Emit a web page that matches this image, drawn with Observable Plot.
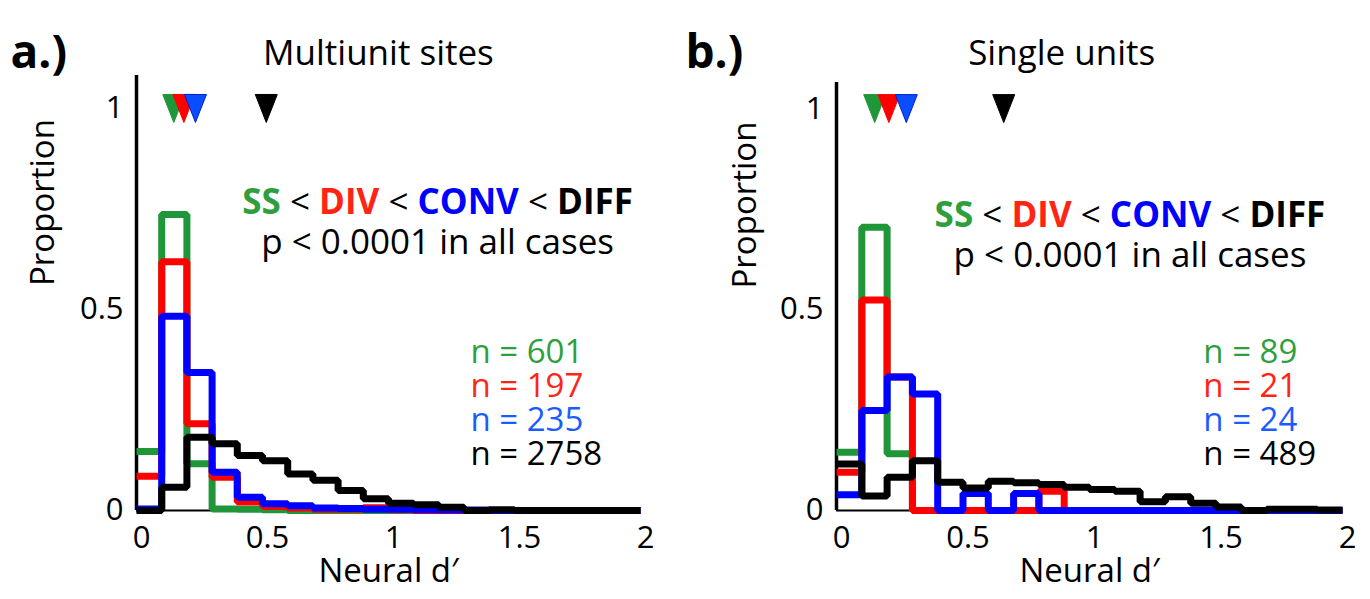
<!DOCTYPE html>
<html><head><meta charset="utf-8">
<script src="https://cdn.jsdelivr.net/npm/d3@7"></script>
<script src="https://cdn.jsdelivr.net/npm/@observablehq/plot@0.6"></script>
<style>
body{margin:0;background:#fff;}
#wrap{position:relative;width:1370px;height:599px;overflow:hidden;background:#fff;}
#wrap svg{position:absolute;top:0;}
</style></head><body><div id="wrap"></div>
<script>
// ---------- data ----------
const binEdges = [0,0.1,0.2,0.3,0.4,0.5,0.6,0.7,0.8,0.9,1.0,1.1,1.2,1.3,1.4,1.5,1.6,1.7,1.8,1.9,2.0];
const xTicks = [0,0.5,1,1.5,2];
const yTicks = [0,0.5,1];
const seriesNames = ["SS","DIV","CONV","DIFF"];
const lineColors = ["#1f9638","#ff0000","#0000ff","#000000"];
const textColors = ["#2e9f3c","#ff2414","#1b5cff","#000000"];
const markerColors = ["#1f9638","#ff0000","#0a4cff","#000000"];

// Panel a: Multiunit sites
const ssA   = [0.147,0.736,0.116,0.004,0.003,0.002,0,0,0,0,0,0,0,0,0,0,0,0,0,0];
const divA  = [0.085,0.619,0.216,0.083,0.021,0.010,0.006,0.003,0.003,0.007,0.002,0,0,0,0,0,0,0,0,0];
const convA = [0.004,0.483,0.343,0.095,0.033,0.017,0.012,0.006,0.005,0.003,0.003,0.002,0.001,0.001,0,0,0,0,0,0];
const diffA = [0,0.058,0.182,0.166,0.137,0.124,0.091,0.075,0.050,0.029,0.018,0.014,0.008,0,0.002,0,0,0,0,0];
const mediansA = [0.148,0.188,0.234,0.515];
const nA = ["601","197","235","2758"];

// Panel b: Single units
const ssB   = [0.145,0.705,0.141,0,0,0,0,0,0,0,0,0,0,0,0,0,0,0,0,0];
const divB  = [0.095,0.524,0.332,0,0,0,0,0,0.048,0,0,0,0,0,0,0,0,0,0,0];
const convB = [0.039,0.249,0.332,0.290,0,0.042,0,0.042,0,0,0,0,0,0,0,0,0,0,0,0];
const diffB = [0.116,0.036,0.083,0.124,0.070,0.056,0.073,0.069,0.065,0.058,0.052,0.048,0.022,0.034,0.018,0.009,0,0.003,0.003,0.001];
const mediansB = [0.151,0.207,0.276,0.661];
const nB = ["89","21","24","489"];

const statText = "SS < DIV < CONV < DIFF";
const pText = "p < 0.0001 in all cases";

// ---------- drawing ----------
const SVGNS = "http://www.w3.org/2000/svg";
const downTri = {draw(ctx){ ctx.moveTo(-11,-14); ctx.lineTo(11,-14); ctx.lineTo(0,14); ctx.closePath(); }};
const steps = vals => binEdges.map((x,i) => ({x, y: vals[Math.min(i, vals.length-1)]}));

function panel(cfg){
  const series = cfg.series;
  const nBlock = cfg.n.map(n => "n = " + n).join("\n");
  const statBlock = statText + "\n" + pText;
  const marks = [
    Plot.ruleY([0], {stroke:"black", strokeWidth:2}),
    Plot.ruleX([0], {stroke:"black", strokeWidth:3.5}),
    ...series.map((v,i) => Plot.line(steps(v), {x:"x", y:"y", curve:"step-after", stroke:lineColors[i], strokeWidth:7, strokeLinejoin:"miter", strokeLinecap:"butt"})),
    Plot.dot(cfg.medians.map((m,i)=>({x:m, y:1, i})), {x:"x", y:"y", symbol: downTri, fill: d=>markerColors[d.i], stroke: d=> d.i===2 ? "#0022cc" : markerColors[d.i], strokeWidth:1}),
    Plot.axisY({ticks:yTicks, tickSize:0, tickPadding:13, tickFormat:d=>String(d), label:null, fontSize:31}),
    Plot.axisX({ticks:xTicks, tickSize:0, tickPadding:15, tickFormat:d=>String(d), label:null, fontSize:31, dx:5}),
    Plot.text([cfg.title], {x:cfg.titleX, frameAnchor:"top", dy:cfg.titleDy, fontSize:35}),
    Plot.text([cfg.letter], {frameAnchor:"top-left", dx:cfg.letterDx, dy:cfg.letterDy, textAnchor:"start", fontSize:46, fontWeight:"bold"}),
    Plot.text(["Proportion"], {frameAnchor:"left", rotate:-90, dx:cfg.propDx, dy:cfg.propDy, fontSize:33}),
    Plot.text(["Neural d\u2032"], {frameAnchor:"bottom", dy:71, fontSize:33}),
    Plot.text([{x:cfg.statX, y:cfg.statY}], {x:"x", y:"y", text:()=>statBlock, fontSize:35, lineHeight:40/35, lineAnchor:"middle"}),
    Plot.text([{x:cfg.nX, y:cfg.nYc}], {x:"x", y:"y", text:()=>nBlock, textAnchor:"start", fontSize:33, lineHeight:34/33, lineAnchor:"middle"})
  ];
  const svg = Plot.plot({
    width:685, height:599,
    marginLeft:cfg.ml, marginRight:cfg.mr, marginTop:cfg.mt, marginBottom:89,
    x:{domain:[0,2]},
    y:{domain:[0,cfg.yTop]},
    style:{fontFamily:"'Open Sans', sans-serif", fontSize:"31px", background:"transparent", color:"black", overflow:"visible"},
    marks
  });
  // colour the ordering statement word by word, and the n lines by series
  const parts = [["SS",textColors[0],"bold"],[" < ","black","normal"],["DIV",textColors[1],"bold"],[" < ","black","normal"],["CONV","#0000ff","bold"],[" < ","black","normal"],["DIFF","black","bold"]];
  svg.querySelectorAll("tspan").forEach(t => {
    if (t.textContent === statText) {
      t.textContent = "";
      parts.forEach(([s,c,w]) => {
        const ts = document.createElementNS(SVGNS,"tspan");
        ts.textContent = s; ts.setAttribute("fill", c); ts.setAttribute("font-weight", w);
        t.appendChild(ts);
      });
    } else {
      const k = cfg.n.findIndex(n => t.textContent === "n = " + n);
      if (k >= 0) t.setAttribute("fill", textColors[k]);
    }
  });
  svg.style.left = cfg.left + "px";
  return svg;
}

const wrap = document.getElementById("wrap");
wrap.appendChild(panel({
  left:0, ml:136, mr:45, mt:75, yTop:1.082,
  series:[ssA,divA,convA,diffA], medians:mediansA, n:nA,
  title:"Multiunit sites", titleX:0.96, titleDy:-35,
  letter:"a.)", letterDx:-126, letterDy:-40,
  propDx:-93, propDy:-7,
  statX:1.195, statY:0.719,
  nX:1.325, nYc:0.266
}));
wrap.appendChild(panel({
  left:685, ml:151, mr:28, mt:82, yTop:1.065,
  series:[ssB,divB,convB,diffB], medians:mediansB, n:nB,
  title:"Single units", titleX:0.89, titleDy:-42,
  letter:"b.)", letterDx:-151, letterDy:-47,
  propDx:-91, propDy:-8,
  statX:1.16, statY:0.688,
  nX:1.45, nYc:0.266
}));
</script></body></html>
